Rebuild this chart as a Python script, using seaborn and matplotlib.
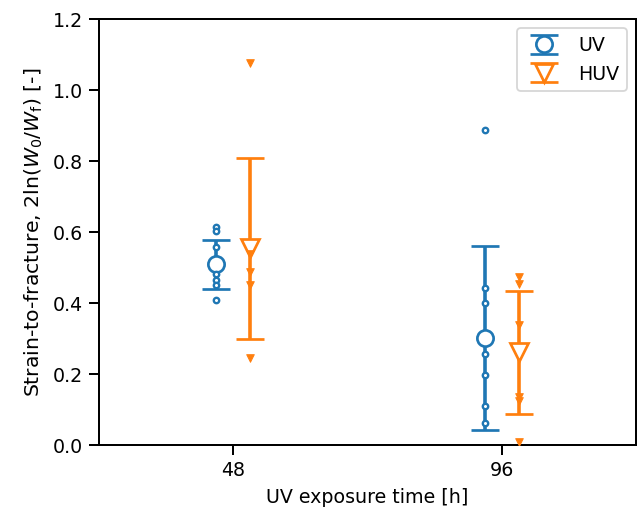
import numpy as np
import pandas as pd
import matplotlib
matplotlib.use("Agg")
import matplotlib.pyplot as plt
import seaborn as sns

# exposure times [h]
times = [48, 96]

# individual specimens, strain-to-fracture
uv_48 = [0.613, 0.602, 0.559, 0.483, 0.466, 0.452, 0.410]
uv_96 = [0.887, 0.442, 0.400, 0.258, 0.197, 0.110, 0.061]
huv_48 = [1.075, 0.539, 0.487, 0.450, 0.244]
huv_96 = [0.473, 0.454, 0.337, 0.136, 0.124, 0.009]

# mean and standard deviation per group
uv_mean = [0.509, 0.302]
uv_std = [0.070, 0.260]
huv_mean = [0.555, 0.261]
huv_std = [0.255, 0.172]

OFFSET = 3.0
BLUE = "#1f77b4"
ORANGE = "#ff7f0e"

raw = pd.DataFrame({
    "time": [times[0]] * len(uv_48) + [times[1]] * len(uv_96)
            + [times[0]] * len(huv_48) + [times[1]] * len(huv_96),
    "value": uv_48 + uv_96 + huv_48 + huv_96,
    "group": ["UV"] * (len(uv_48) + len(uv_96)) + ["HUV"] * (len(huv_48) + len(huv_96)),
})
raw["x"] = raw["time"] + np.where(raw["group"] == "UV", -OFFSET, OFFSET)

DPI = 130
fig, ax = plt.subplots(figsize=(638 / DPI, 514 / DPI), dpi=DPI)
fig.subplots_adjust(left=0.155, right=0.997, top=0.963, bottom=0.134)

# mean +/- std
ax.errorbar(np.array(times) - OFFSET, uv_mean, yerr=uv_std, fmt="o", color=BLUE,
            mfc="white", mec=BLUE, ms=9, mew=1.5, elinewidth=2, capsize=8,
            capthick=2, label="UV", zorder=3)
ax.errorbar(np.array(times) + OFFSET, huv_mean, yerr=huv_std, fmt="v", color=ORANGE,
            mfc="white", mec=ORANGE, ms=10.5, mew=1.5, elinewidth=2, capsize=8,
            capthick=2, label="HUV", zorder=3)

# raw points on top
uv_raw = raw[raw["group"] == "UV"]
huv_raw = raw[raw["group"] == "HUV"]
sns.scatterplot(data=uv_raw, x="x", y="value", ax=ax, marker="o", s=9,
                facecolor="white", edgecolor=BLUE, linewidth=1.3, legend=False, zorder=5)
sns.scatterplot(data=huv_raw, x="x", y="value", ax=ax, marker="v", s=18,
                color=ORANGE, edgecolor=ORANGE, linewidth=0.5, legend=False, zorder=5)

ax.set_xlim(24, 120)
ax.set_ylim(0, 1.2)
ax.set_xticks(times)
ax.set_yticks(np.arange(0, 1.21, 0.2))
ax.set_xlabel("UV exposure time [h]", fontsize=10.5)
ax.set_ylabel(r"Strain-to-fracture, $2\ln(W_0/W_\mathrm{f})$ [-]", fontsize=11.3)
ax.tick_params(labelsize=10.5, length=5.5, width=1.1)
for sp in ax.spines.values():
    sp.set_linewidth(1.1)
ax.legend(loc="upper right", fontsize=10.5)

fig.savefig("out.png", dpi=DPI)
